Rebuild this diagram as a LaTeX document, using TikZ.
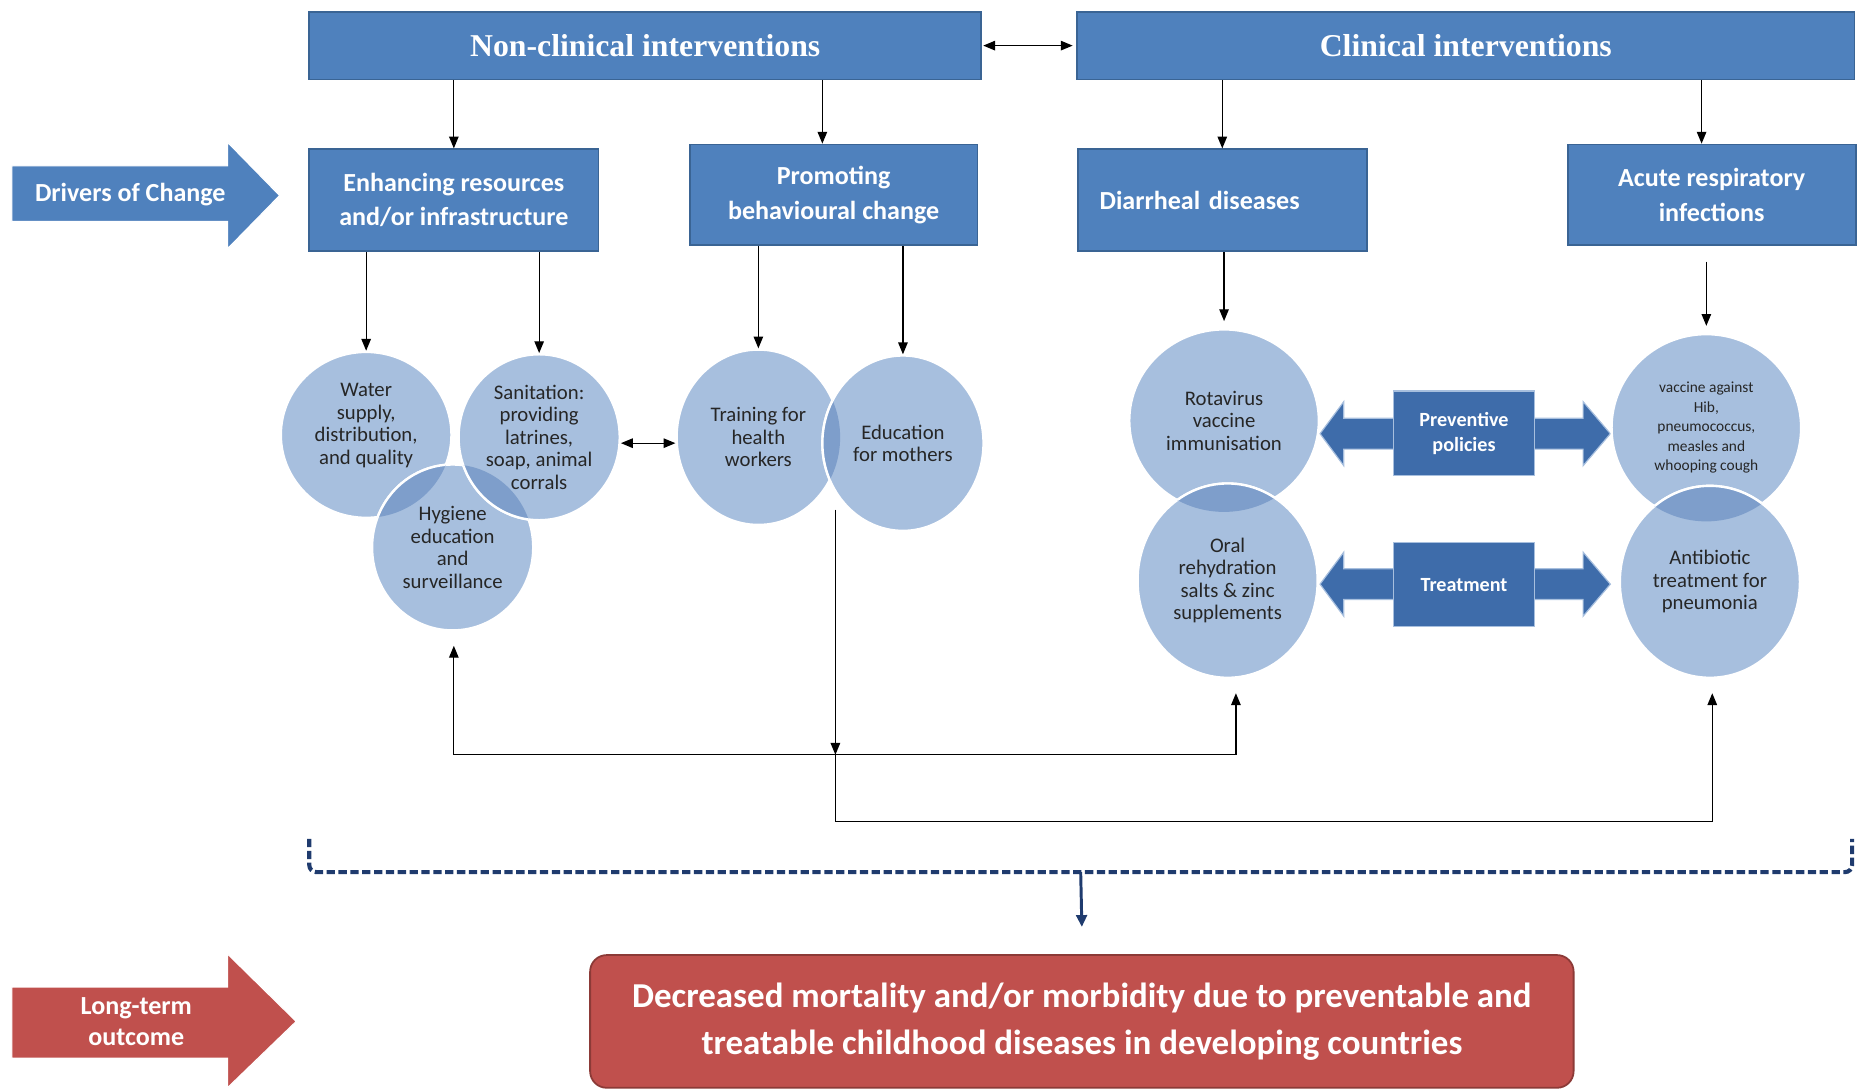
\documentclass[tikz,border=0pt]{standalone}
\usepackage{fontspec}
\setmainfont{Carlito}
\newfontfamily\headfont{Liberation Serif}
\usepackage{tikz}
\usetikzlibrary{shapes.geometric}
\usetikzlibrary{calc}
\usetikzlibrary{arrows.meta}

\definecolor{boxblue}{HTML}{4F81BD}
\definecolor{boxedge}{HTML}{3A6494}
\definecolor{circblue}{HTML}{A7BFDE}
\definecolor{lensblue}{HTML}{7E9ECB}
\definecolor{polblue}{HTML}{3E6CAA}
\definecolor{navy}{HTML}{1F3B6E}
\definecolor{outred}{HTML}{C0504D}
\definecolor{outedge}{HTML}{8C3A37}

% darker lens where two ellipses overlap: clip ellipse, top ellipse
\newcommand{\lensfill}[6]{%
  \begin{scope}
    \clip (#1) ellipse [x radius=#2, y radius=#3];
    \fill[lensblue] (#4) ellipse [x radius=#5, y radius=#6];
    \draw[white, line width=2pt] (#4) ellipse [x radius=#5, y radius=#6];
  \end{scope}}

\begin{document}
\begin{tikzpicture}[x=1pt, y=-1pt,
    headbox/.style={draw=boxedge, line width=1.5pt, fill=boxblue, text=white, inner sep=0pt,
        minimum height=57pt, font=\headfont\bfseries\fontsize{26.8}{30}\selectfont},
    subbox/.style={draw=boxedge, line width=1.5pt, fill=boxblue, text=white, inner sep=0pt, align=center,
        minimum width=244pt, minimum height=86pt, font=\bfseries\fontsize{22}{29}\selectfont},
    polbox/.style={draw=circblue, line width=1pt, fill=polblue, text=white, inner sep=0pt, align=center,
        minimum width=119pt, minimum height=71pt, font=\bfseries\fontsize{17}{21}\selectfont},
    blob/.style={ellipse, fill=circblue, draw=white, line width=2pt, inner sep=0pt, align=center,
        text=black!85, font=\fontsize{17.5}{19}\selectfont},
    arr/.style={-{Triangle[length=10pt,width=8pt]}, line width=1.1pt},
    biarr/.style={{Triangle[length=10pt,width=8pt]}-{Triangle[length=10pt,width=8pt]}, line width=1.1pt},
    bigarrow/.style={fill=#1, draw=white, line width=1pt},
    bigtext/.style={text=white, align=center, font=\bfseries\fontsize{22}{26}\selectfont}
  ]
  \useasboundingbox (0,0) rectangle (1568,920);

  % top row
  \node[headbox, minimum width=567pt] (nonclin) at (544.5,38.5) {Non-clinical interventions};
  \node[headbox, minimum width=656pt] (clin) at (1237,38.5) {Clinical interventions};
  \draw[biarr] ([xshift=1pt]nonclin.east) -- ([xshift=-3pt]clin.west);

  % drivers of change
  \draw[bigarrow=boxblue] (10,140) -- (192,140) -- (192,120) -- (236,165) -- (192,210) -- (192,187) -- (10,187) -- cycle;
  \node[bigtext, font=\bfseries\fontsize{22}{24}\selectfont] (drivers) at (110,164) {Drivers of Change};

  \node[subbox] (enh) at (383,169) {Enhancing resources\\and/or infrastructure};
  \node[subbox, minimum width=243pt, minimum height=85pt] (prom) at (703.5,164.5) {Promoting\\behavioural change};
  \node[subbox, align=left, text width=207pt] (diar) at (1031.5,169) {Diarrheal diseases};
  \node[subbox, minimum width=243pt, minimum height=85pt] (acute) at (1444.5,164.5) {Acute respiratory\\infections};

  \coordinate (promin) at ($(prom.north)+(-9.5,0)$);
  \coordinate (acutein) at ($(acute.north)+(-8.5,0)$);
  \draw[arr] (nonclin.south -| enh.north) -- (enh.north);
  \draw[arr] (nonclin.south -| promin) -- (promin);
  \draw[arr] (clin.south -| diar.north) -- (diar.north);
  \draw[arr] (clin.south -| acutein) -- (acutein);

  % non-clinical ellipses
  \node[blob, minimum width=144pt, minimum height=140pt] (water) at (309,367) {Water\\supply,\\distribution,\\and quality\\\mbox{}};
  \node[blob, minimum width=136pt, minimum height=140pt] (hyg) at (382,462) {Hygiene\\education\\and\\surveillance};
  \node[blob, minimum width=136pt, minimum height=140pt] (san) at (455,369) {Sanitation:\\providing\\latrines,\\soap, animal\\corrals};
  \node[blob, minimum width=138pt, minimum height=148pt] (train) at (640,369) {Training for\\health\\workers};
  \node[blob, minimum width=136pt, minimum height=148pt] (edu) at (762,374) {Education\\for mothers};
  \lensfill{water.center}{72}{70}{hyg.center}{68}{70}
  \lensfill{hyg.center}{68}{70}{san.center}{68}{70}
  \lensfill{train.center}{69}{74}{edu.center}{68}{74}

  \draw[arr] (enh.south -| water.north) -- (water.north);
  \draw[arr] (enh.south -| san.north) -- (san.north);
  \draw[arr] (prom.south -| train.north) -- (train.north);
  \draw[arr] (prom.south -| edu.north) -- (edu.north);
  \draw[biarr] ([yshift=-5pt]san.east) -- ([yshift=-5pt]train.west);

  % clinical ellipses
  \draw[bigarrow=polblue, draw=circblue] (1114,366) -- (1134,339) -- (1134,353) -- (1336,353) -- (1336,339) -- (1359,366)
    -- (1336,393) -- (1336,379) -- (1134,379) -- (1134,393) -- cycle;
  \draw[bigarrow=polblue, draw=circblue] (1114,493) -- (1134,466) -- (1134,480) -- (1336,480) -- (1336,466) -- (1359,493)
    -- (1336,520) -- (1336,506) -- (1134,506) -- (1134,520) -- cycle;
  \node[polbox] (prev) at (1235.5,365.5) {Preventive\\policies};
  \node[polbox] (treat) at (1235.5,493.5) {Treatment};

  \node[blob, minimum width=160pt, minimum height=154pt] (rota) at (1033,355) {Rotavirus\\vaccine\\immunisation};
  \node[blob, minimum width=152pt, minimum height=164pt] (oral) at (1036,490) {Oral\\rehydration\\salts \& zinc\\supplements};
  \node[blob, minimum width=160pt, minimum height=158pt, font=\fontsize{13}{16.5}\selectfont] (vacc) at (1440,361)
    {vaccine against\\Hib,\\pneumococcus,\\measles and\\whooping cough};
  \node[blob, minimum width=152pt, minimum height=162pt] (antib) at (1443,491) {Antibiotic\\treatment for\\pneumonia};
  \lensfill{rota.center}{80}{77}{oral.center}{76}{82}
  \lensfill{vacc.center}{80}{79}{antib.center}{76}{81}

  \draw[arr] (diar.south -| rota.north) -- ([yshift=6pt]rota.north);
  \draw[arr] ($(acute.south -| vacc.north)+(0,13)$) -- ([yshift=6pt]vacc.north);

  % feedback lines
  \coordinate (fbtop) at (705,430);
  \coordinate (fbmid) at (705,637);
  \coordinate (fblow) at (705,693);
  \coordinate (hygin) at (383,545);
  \coordinate (oralin) at (1043,585);
  \coordinate (antibin) at (1445,585);
  \draw[arr] (fbtop) -- (fbmid);
  \draw[line width=1.1pt] (fbmid) -- (fblow);
  \draw[arr] (fbmid) -| (hygin);
  \draw[arr] (fbmid) -| (oralin);
  \draw[arr] (fblow) -| (antibin);

  % bracket to outcome
  \coordinate (brL) at (261,708);
  \coordinate (brM) at (912,736);
  \coordinate (brR) at (1563,708);
  \draw[navy, line width=3.5pt, dash pattern=on 7pt off 3pt, rounded corners=6pt] (brL) |- (brM) -| (brR);

  \node[draw=outedge, line width=1.5pt, fill=outred, rounded corners=14pt, text=white, align=center,
    minimum width=830pt, minimum height=112pt, font=\bfseries\fontsize{29.5}{40}\selectfont] (outcome) at (913,862)
    {Decreased mortality and/or morbidity due to preventable and\\treatable childhood diseases in developing countries};
  \draw[navy, line width=2.5pt, -{Triangle[length=10pt,width=9pt]}] (brM) -- ([yshift=23pt]outcome.north);

  \draw[bigarrow=outred] (10,833) -- (192,833) -- (192,805) -- (250,862) -- (192,918) -- (192,893) -- (10,893) -- cycle;
  \node[bigtext] (longterm) at (115,862) {Long-term\\outcome};
\end{tikzpicture}
\end{document}
